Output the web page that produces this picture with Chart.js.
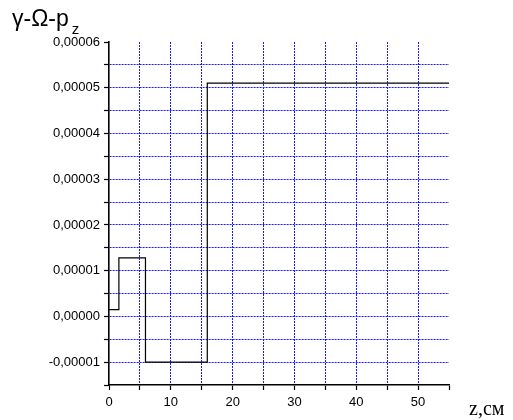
<!DOCTYPE html>
<html>
<head>
<meta charset="utf-8">
<script src="https://cdn.jsdelivr.net/npm/chart.js@4"></script>
<style>
  body { margin: 0; background: #fff; }
  #wrap { position: relative; width: 513px; height: 420px; }
  #title { position: absolute; left: 12px; top: 7px; font: 23px "Liberation Sans", Arial, sans-serif; line-height: 23px; color: #000; white-space: nowrap; }
  #title .sub { position: relative; top: 8px; font-size: 15px; margin-left: 3px; }
  #xname { position: absolute; left: 469px; top: 398px; font: 20px "Liberation Serif", "Times New Roman", serif; line-height: 20px; color: #000; }
</style>
</head>
<body>
<div id="wrap">
  <canvas id="chart" width="513" height="420"></canvas>
  <div id="title">γ-Ω-p<span class="sub">z</span></div>
  <div id="xname">z,см</div>
</div>
<script>
// step profile: each point is where a new level starts
const zStart = [0, 1.6, 5.9, 15.9, 55];
const levels = [0.0000015, 0.0000128, -0.00001, 0.000051, 0.000051];

// axis ticks
const xTickValues = [0, 5, 10, 15, 20, 25, 30, 35, 40, 45, 50, 55];
const xTickLabels = ["0", "", "10", "", "20", "", "30", "", "40", "", "50", ""];
const yTickValues = [-0.000015, -0.00001, -0.000005, 0, 0.000005, 0.00001, 0.000015,
  0.00002, 0.000025, 0.00003, 0.000035, 0.00004, 0.000045, 0.00005, 0.000055, 0.00006];
const yTickLabels = ["", "-0,00001", "", "0,00000", "", "0,00001", "", "0,00002", "",
  "0,00003", "", "0,00004", "", "0,00005", "", "0,00006"];

const gridBlue = "#1a1aff";
const labelFont = { family: "'Liberation Sans', Arial, sans-serif", size: 13 };
const points = zStart.map((z, i) => ({ x: z, y: levels[i] }));

new Chart(document.getElementById("chart"), {
  type: "line",
  data: {
    datasets: [{
      data: points,
      borderColor: "#000",
      borderWidth: 1.2,
      pointRadius: 0,
      fill: false,
      stepped: true
    }]
  },
  options: {
    responsive: false,
    animation: false,
    layout: { padding: { left: 0, top: 42, right: 64, bottom: 0 } },
    plugins: { legend: { display: false }, tooltip: { enabled: false } },
    scales: {
      x: {
        type: "linear",
        min: 0,
        max: 55,
        afterBuildTicks: (scale) => { scale.ticks = xTickValues.map(v => ({ value: v })); },
        afterFit: (scale) => { scale.height = 35; },
        ticks: {
          autoSkip: false,
          maxRotation: 0,
          padding: 5,
          color: "#000",
          font: labelFont,
          callback: (v, i) => xTickLabels[i]
        },
        grid: {
          color: (ctx) => (ctx.tick && (ctx.tick.value === 0 || ctx.tick.value === 55)) ? "rgba(0,0,0,0)" : gridBlue,
          lineWidth: 1,
          tickColor: "#000",
          tickLength: 5,
          tickWidth: 1.2
        },
        border: { color: "#000", width: 1.6, dash: [2, 1] }
      },
      y: {
        type: "linear",
        min: -0.000015,
        max: 0.00006,
        afterBuildTicks: (scale) => { scale.ticks = yTickValues.map(v => ({ value: v })); },
        afterFit: (scale) => { scale.width = 109; },
        ticks: {
          autoSkip: false,
          padding: 4,
          color: "#000",
          font: labelFont,
          callback: (v, i) => yTickLabels[i]
        },
        grid: {
          color: (ctx) => (ctx.tick && (ctx.index === 0 || ctx.index === yTickValues.length - 1)) ? "rgba(0,0,0,0)" : gridBlue,
          lineWidth: 1,
          tickColor: "#000",
          tickLength: 5,
          tickWidth: 1.2
        },
        border: { color: "#000", width: 1.6, dash: [2, 1] }
      }
    }
  }
});
</script>
</body>
</html>
